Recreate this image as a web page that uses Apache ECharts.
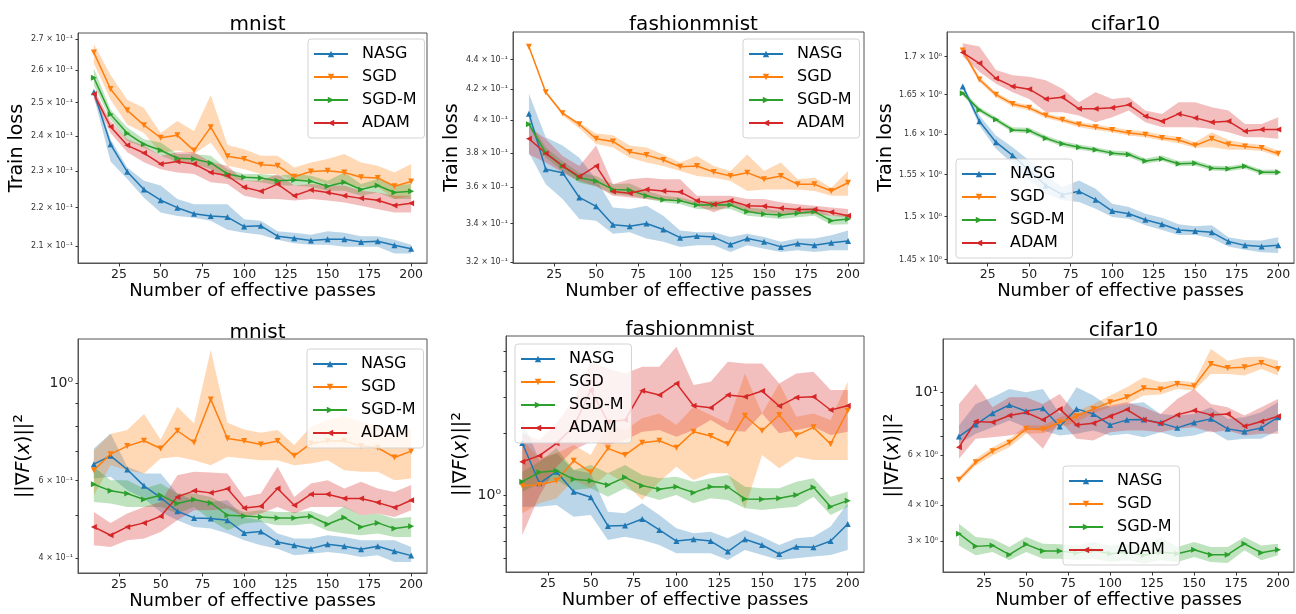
<!DOCTYPE html>
<html>
<head>
<meta charset="utf-8">
<script src="https://cdn.jsdelivr.net/npm/echarts@6.0.0/dist/echarts.min.js"></script>
<style>
  html, body { margin: 0; padding: 0; background: #fff; }
  #chart { width: 1296px; height: 614px; }
</style>
</head>
<body>
<div id="chart"></div>
<script>
var passes = [10, 20, 30, 40, 50, 60, 70, 80, 90, 100, 110, 120, 130, 140, 150, 160, 170, 180, 190, 200];
var passTicks = [25, 50, 75, 100, 125, 150, 175, 200];
var algos = ['NASG', 'SGD', 'SGD-M', 'ADAM'];

// mnist - train loss
var mnistLossNasg = [0.2531, 0.2376, 0.2298, 0.2249, 0.2220, 0.2200, 0.2184, 0.2178, 0.2175, 0.2150, 0.2152, 0.2125, 0.2120, 0.2114, 0.2117, 0.2117, 0.2110, 0.2112, 0.2102, 0.2093];
var mnistLossNasgLo = [0.2518, 0.2327, 0.2278, 0.2227, 0.2187, 0.2178, 0.2173, 0.2165, 0.2142, 0.2134, 0.2129, 0.2116, 0.2107, 0.2103, 0.2103, 0.2098, 0.2098, 0.2098, 0.2081, 0.2081];
var mnistLossNasgHi = [0.2545, 0.2391, 0.2310, 0.2273, 0.2260, 0.2223, 0.2209, 0.2209, 0.2209, 0.2169, 0.2165, 0.2138, 0.2134, 0.2129, 0.2138, 0.2134, 0.2125, 0.2125, 0.2116, 0.2103];
var mnistLossSgd = [0.2656, 0.2541, 0.2476, 0.2432, 0.2395, 0.2402, 0.2358, 0.2426, 0.2342, 0.2334, 0.2318, 0.2315, 0.2284, 0.2299, 0.2301, 0.2296, 0.2283, 0.2281, 0.2258, 0.2271];
var mnistLossSgdLo = [0.2621, 0.2508, 0.2434, 0.2409, 0.2351, 0.2358, 0.2348, 0.2381, 0.2315, 0.2305, 0.2292, 0.2292, 0.2273, 0.2278, 0.2264, 0.2264, 0.2256, 0.2256, 0.2223, 0.2232];
var mnistLossSgdHi = [0.2684, 0.2585, 0.2508, 0.2483, 0.2409, 0.2444, 0.2414, 0.2523, 0.2374, 0.2362, 0.2343, 0.2343, 0.2310, 0.2324, 0.2334, 0.2348, 0.2324, 0.2315, 0.2296, 0.2320];
var mnistLossSgdm = [0.2576, 0.2464, 0.2408, 0.2376, 0.2359, 0.2336, 0.2334, 0.2323, 0.2292, 0.2283, 0.2281, 0.2273, 0.2275, 0.2272, 0.2258, 0.2269, 0.2249, 0.2260, 0.2241, 0.2244];
var mnistLossSgdmLo = [0.2553, 0.2449, 0.2386, 0.2367, 0.2344, 0.2325, 0.2320, 0.2305, 0.2278, 0.2273, 0.2269, 0.2260, 0.2260, 0.2256, 0.2246, 0.2246, 0.2232, 0.2241, 0.2223, 0.2223];
var mnistLossSgdmHi = [0.2606, 0.2479, 0.2425, 0.2391, 0.2381, 0.2348, 0.2348, 0.2343, 0.2305, 0.2292, 0.2292, 0.2287, 0.2292, 0.2287, 0.2273, 0.2296, 0.2264, 0.2278, 0.2260, 0.2264];
var mnistLossAdam = [0.2526, 0.2427, 0.2373, 0.2351, 0.2320, 0.2327, 0.2320, 0.2296, 0.2287, 0.2255, 0.2244, 0.2264, 0.2232, 0.2248, 0.2241, 0.2232, 0.2225, 0.2220, 0.2206, 0.2212];
var mnistLossAdamLo = [0.2510, 0.2409, 0.2353, 0.2325, 0.2305, 0.2296, 0.2292, 0.2269, 0.2264, 0.2232, 0.2223, 0.2223, 0.2219, 0.2223, 0.2219, 0.2214, 0.2205, 0.2196, 0.2187, 0.2187];
var mnistLossAdamHi = [0.2541, 0.2444, 0.2391, 0.2372, 0.2343, 0.2353, 0.2353, 0.2325, 0.2315, 0.2273, 0.2273, 0.2292, 0.2260, 0.2264, 0.2260, 0.2260, 0.2246, 0.2241, 0.2232, 0.2232];

// fashionmnist - train loss
var fashionLossNasg = [0.4040, 0.3703, 0.3683, 0.3542, 0.3493, 0.3393, 0.3385, 0.3400, 0.3368, 0.3325, 0.3333, 0.3328, 0.3289, 0.3320, 0.3303, 0.3277, 0.3294, 0.3286, 0.3299, 0.3308];
var fashionLossNasgLo = [0.3800, 0.3616, 0.3533, 0.3424, 0.3415, 0.3345, 0.3354, 0.3320, 0.3303, 0.3277, 0.3286, 0.3286, 0.3251, 0.3286, 0.3268, 0.3251, 0.3260, 0.3251, 0.3260, 0.3260];
var fashionLossNasgHi = [0.4169, 0.3894, 0.3843, 0.3771, 0.3645, 0.3487, 0.3478, 0.3496, 0.3442, 0.3362, 0.3354, 0.3354, 0.3328, 0.3345, 0.3328, 0.3303, 0.3320, 0.3320, 0.3337, 0.3362];
var fashionLossSgd = [0.4489, 0.4179, 0.4044, 0.3974, 0.3885, 0.3868, 0.3804, 0.3786, 0.3757, 0.3717, 0.3722, 0.3687, 0.3664, 0.3683, 0.3645, 0.3664, 0.3616, 0.3616, 0.3578, 0.3625];
var fashionLossSgdLo = [0.4478, 0.4169, 0.4029, 0.3949, 0.3853, 0.3832, 0.3771, 0.3742, 0.3722, 0.3693, 0.3664, 0.3654, 0.3635, 0.3578, 0.3587, 0.3587, 0.3587, 0.3578, 0.3551, 0.3551];
var fashionLossSgdHi = [0.4500, 0.4190, 0.4054, 0.3983, 0.3917, 0.3906, 0.3843, 0.3832, 0.3790, 0.3742, 0.3781, 0.3722, 0.3693, 0.3790, 0.3693, 0.3742, 0.3645, 0.3654, 0.3596, 0.3693];
var fashionLossSgdm = [0.3974, 0.3800, 0.3722, 0.3654, 0.3635, 0.3587, 0.3584, 0.3551, 0.3529, 0.3524, 0.3500, 0.3502, 0.3500, 0.3464, 0.3451, 0.3445, 0.3455, 0.3464, 0.3415, 0.3424];
var fashionLossSgdmLo = [0.3964, 0.3771, 0.3693, 0.3625, 0.3605, 0.3560, 0.3551, 0.3533, 0.3515, 0.3505, 0.3478, 0.3475, 0.3478, 0.3442, 0.3433, 0.3424, 0.3433, 0.3442, 0.3393, 0.3396];
var fashionLossSgdmHi = [0.4000, 0.3832, 0.3751, 0.3683, 0.3664, 0.3616, 0.3621, 0.3578, 0.3551, 0.3542, 0.3518, 0.3524, 0.3524, 0.3487, 0.3478, 0.3469, 0.3478, 0.3487, 0.3442, 0.3451];
var fashionLossAdam = [0.3885, 0.3796, 0.3722, 0.3660, 0.3722, 0.3575, 0.3565, 0.3587, 0.3578, 0.3573, 0.3524, 0.3505, 0.3524, 0.3496, 0.3493, 0.3482, 0.3475, 0.3475, 0.3460, 0.3442];
var fashionLossAdamLo = [0.3790, 0.3742, 0.3683, 0.3635, 0.3605, 0.3551, 0.3542, 0.3533, 0.3524, 0.3533, 0.3496, 0.3460, 0.3496, 0.3460, 0.3460, 0.3451, 0.3451, 0.3451, 0.3442, 0.3433];
var fashionLossAdamHi = [0.3955, 0.3885, 0.3781, 0.3722, 0.3843, 0.3616, 0.3645, 0.3654, 0.3645, 0.3645, 0.3551, 0.3551, 0.3551, 0.3533, 0.3533, 0.3515, 0.3505, 0.3496, 0.3487, 0.3478];

// cifar10 - train loss
var cifarLossNasg = [1.6607, 1.6161, 1.5898, 1.5734, 1.5549, 1.5369, 1.5258, 1.5298, 1.5198, 1.5063, 1.5032, 1.4962, 1.4909, 1.4841, 1.4830, 1.4815, 1.4709, 1.4664, 1.4652, 1.4664];
var cifarLossNasgLo = [1.6576, 1.6106, 1.5816, 1.5631, 1.5429, 1.5270, 1.5190, 1.5171, 1.5091, 1.4992, 1.4974, 1.4898, 1.4841, 1.4784, 1.4784, 1.4746, 1.4652, 1.4614, 1.4584, 1.4576];
var cifarLossNasgHi = [1.6639, 1.6233, 1.5980, 1.5836, 1.5672, 1.5488, 1.5349, 1.5429, 1.5329, 1.5151, 1.5111, 1.5032, 1.4985, 1.4909, 1.4886, 1.4898, 1.4757, 1.4727, 1.4720, 1.4757];
var cifarLossSgd = [1.7080, 1.6697, 1.6500, 1.6381, 1.6331, 1.6233, 1.6178, 1.6119, 1.6085, 1.6051, 1.6013, 1.5992, 1.5951, 1.5926, 1.5857, 1.5939, 1.5869, 1.5844, 1.5824, 1.5754];
var cifarLossSgdLo = [1.7045, 1.6666, 1.6466, 1.6348, 1.6297, 1.6203, 1.6148, 1.6085, 1.6051, 1.6022, 1.5980, 1.5959, 1.5918, 1.5885, 1.5828, 1.5836, 1.5803, 1.5803, 1.5787, 1.5721];
var cifarLossSgdHi = [1.7112, 1.6732, 1.6531, 1.6411, 1.6360, 1.6263, 1.6212, 1.6148, 1.6119, 1.6085, 1.6051, 1.6030, 1.5992, 1.5967, 1.5898, 1.6022, 1.5926, 1.5885, 1.5865, 1.5795];
var cifarLossSgdm = [1.6517, 1.6305, 1.6182, 1.6051, 1.6042, 1.5947, 1.5877, 1.5836, 1.5803, 1.5762, 1.5746, 1.5664, 1.5693, 1.5631, 1.5639, 1.5578, 1.5570, 1.5602, 1.5529, 1.5529];
var cifarLossSgdmLo = [1.6487, 1.6275, 1.6152, 1.6022, 1.6009, 1.5918, 1.5844, 1.5803, 1.5775, 1.5734, 1.5713, 1.5631, 1.5664, 1.5602, 1.5606, 1.5549, 1.5541, 1.5570, 1.5500, 1.5496];
var cifarLossSgdmHi = [1.6551, 1.6339, 1.6212, 1.6085, 1.6077, 1.5980, 1.5910, 1.5869, 1.5836, 1.5795, 1.5783, 1.5697, 1.5734, 1.5664, 1.5672, 1.5610, 1.5602, 1.5631, 1.5557, 1.5561];
var cifarLossAdam = [1.7054, 1.6911, 1.6710, 1.6607, 1.6571, 1.6445, 1.6466, 1.6318, 1.6318, 1.6331, 1.6369, 1.6225, 1.6161, 1.6254, 1.6203, 1.6148, 1.6161, 1.6034, 1.6055, 1.6055];
var cifarLossAdamLo = [1.7000, 1.6799, 1.6643, 1.6530, 1.6445, 1.6275, 1.6275, 1.6233, 1.6148, 1.6212, 1.6297, 1.6148, 1.6085, 1.6085, 1.6085, 1.6064, 1.6022, 1.5959, 1.5959, 1.5939];
var cifarLossAdamHi = [1.7179, 1.7134, 1.6821, 1.6754, 1.6732, 1.6688, 1.6576, 1.6403, 1.6530, 1.6445, 1.6466, 1.6297, 1.6254, 1.6403, 1.6403, 1.6339, 1.6297, 1.6127, 1.6127, 1.6212];

// mnist - gradient norm
var mnistGradNasg = [0.6545, 0.6837, 0.6364, 0.5840, 0.5493, 0.5112, 0.4936, 0.4919, 0.4876, 0.4562, 0.4594, 0.4351, 0.4275, 0.4201, 0.4298, 0.4253, 0.4186, 0.4253, 0.4143, 0.4050];
var mnistGradNasgLo = [0.6067, 0.6123, 0.5709, 0.5464, 0.5094, 0.4876, 0.4708, 0.4667, 0.4546, 0.4390, 0.4275, 0.4201, 0.4056, 0.4092, 0.4128, 0.4092, 0.4021, 0.4056, 0.3917, 0.3917];
var mnistGradNasgHi = [0.7106, 0.7689, 0.6453, 0.6231, 0.6231, 0.5609, 0.5416, 0.5369, 0.5416, 0.4962, 0.4876, 0.4546, 0.4429, 0.4429, 0.4506, 0.4467, 0.4390, 0.4390, 0.4390, 0.4238];
var mnistGradSgd = [0.6341, 0.6898, 0.7194, 0.7399, 0.7106, 0.7798, 0.7334, 0.9193, 0.7490, 0.7386, 0.7258, 0.7386, 0.6837, 0.7297, 0.7386, 0.7399, 0.7194, 0.7132, 0.6778, 0.7007];
var mnistGradSgdLo = [0.5561, 0.6510, 0.6341, 0.6231, 0.6742, 0.6802, 0.6684, 0.6510, 0.6802, 0.6742, 0.6684, 0.6684, 0.6510, 0.6567, 0.6684, 0.6341, 0.6287, 0.6287, 0.6017, 0.6067];
var mnistGradSgdHi = [0.7043, 0.7662, 0.7825, 0.8511, 0.7450, 0.8846, 0.8104, 1.1915, 0.8133, 0.7853, 0.7716, 0.7825, 0.7232, 0.7963, 0.8247, 0.8422, 0.8175, 0.8034, 0.7689, 0.7896];
var mnistGradSgdm = [0.5891, 0.5689, 0.5609, 0.5435, 0.5561, 0.5322, 0.5435, 0.5340, 0.5006, 0.4989, 0.4962, 0.4936, 0.4936, 0.4979, 0.4774, 0.4945, 0.4708, 0.4809, 0.4667, 0.4725];
var mnistGradSgdmLo = [0.5369, 0.5322, 0.5230, 0.5230, 0.5230, 0.5049, 0.5230, 0.4876, 0.4627, 0.4793, 0.4834, 0.4751, 0.4751, 0.4793, 0.4612, 0.4546, 0.4506, 0.4546, 0.4467, 0.4467];
var mnistGradSgdmHi = [0.6453, 0.6017, 0.6017, 0.5758, 0.5914, 0.5609, 0.5609, 0.5512, 0.5274, 0.5094, 0.5138, 0.5094, 0.5094, 0.5120, 0.4962, 0.5248, 0.5006, 0.5049, 0.4919, 0.4962];
var mnistGradAdam = [0.4708, 0.4506, 0.4708, 0.4809, 0.4979, 0.5512, 0.5689, 0.5629, 0.5750, 0.5202, 0.5248, 0.5758, 0.5274, 0.5590, 0.5590, 0.5464, 0.5464, 0.5349, 0.5211, 0.5416];
var mnistGradAdamLo = [0.4275, 0.4238, 0.4390, 0.4429, 0.4586, 0.4876, 0.5138, 0.5138, 0.5184, 0.4962, 0.5049, 0.5230, 0.5049, 0.5230, 0.5230, 0.5230, 0.5006, 0.5049, 0.4962, 0.5138];
var mnistGradAdamHi = [0.5094, 0.4809, 0.5049, 0.5230, 0.5369, 0.6174, 0.6287, 0.6265, 0.6231, 0.5512, 0.5609, 0.6453, 0.5512, 0.5914, 0.6017, 0.5758, 0.5966, 0.5758, 0.5656, 0.5863];

// fashionmnist - gradient norm
var fashionGradNasg = [1.795, 1.147, 1.306, 1.045, 0.982, 0.714, 0.717, 0.772, 0.683, 0.604, 0.616, 0.604, 0.537, 0.616, 0.578, 0.523, 0.567, 0.563, 0.604, 0.730];
var fashionGradNasgLo = [0.885, 0.885, 0.901, 0.792, 0.807, 0.611, 0.634, 0.611, 0.578, 0.527, 0.527, 0.527, 0.489, 0.547, 0.517, 0.489, 0.498, 0.508, 0.517, 0.547];
var fashionGradNasgHi = [2.318, 1.486, 1.601, 1.330, 1.282, 0.837, 0.822, 0.918, 0.807, 0.696, 0.658, 0.670, 0.622, 0.683, 0.634, 0.578, 0.622, 0.634, 0.709, 0.918];
var fashionGradSgd = [1.118, 1.126, 1.181, 1.475, 1.296, 1.692, 1.571, 1.802, 1.842, 1.705, 2.036, 1.940, 1.776, 2.432, 2.059, 2.451, 1.955, 2.137, 1.776, 2.571];
var fashionGradSgdLo = [0.822, 0.918, 0.971, 1.190, 1.085, 1.282, 1.147, 0.953, 1.168, 1.380, 1.190, 1.282, 1.282, 0.869, 1.571, 1.355, 1.542, 1.486, 1.486, 1.486];
var fashionGradSgdHi = [1.856, 1.514, 1.601, 1.756, 1.571, 2.234, 2.074, 2.362, 2.496, 2.193, 2.688, 2.451, 2.234, 3.894, 2.496, 3.484, 2.405, 2.496, 2.318, 3.549];
var fashionGradSgdm = [1.168, 1.296, 1.320, 1.199, 1.181, 1.126, 1.226, 1.118, 1.073, 1.105, 1.034, 1.105, 1.101, 0.964, 0.960, 0.971, 1.007, 1.097, 0.885, 0.946];
var fashionGradSgdmLo = [1.045, 1.147, 1.190, 1.065, 1.085, 0.989, 1.085, 1.007, 0.953, 1.007, 0.918, 0.971, 0.953, 0.869, 0.853, 0.869, 0.885, 0.989, 0.807, 0.885];
var fashionGradSgdmHi = [1.306, 1.459, 1.692, 1.330, 1.406, 1.282, 1.406, 1.258, 1.212, 1.235, 1.168, 1.212, 1.258, 1.105, 1.085, 1.085, 1.168, 1.212, 0.989, 1.045];
var fashionGradAdam = [1.459, 1.560, 1.789, 2.153, 3.235, 2.276, 2.318, 3.211, 3.060, 3.484, 2.718, 2.659, 3.060, 3.004, 3.199, 2.708, 2.982, 3.004, 2.591, 2.718];
var fashionGradAdamLo = [0.646, 1.000, 1.380, 1.661, 1.822, 1.756, 1.856, 2.036, 2.074, 1.926, 2.074, 2.318, 2.074, 2.036, 2.496, 1.999, 2.074, 2.153, 1.962, 2.036];
var fashionGradAdamHi = [2.000, 1.856, 2.235, 2.895, 4.432, 4.116, 3.894, 4.193, 4.193, 5.236, 3.420, 3.549, 4.432, 4.351, 4.351, 3.484, 3.894, 3.966, 3.235, 3.235];

// cifar10 - gradient norm
var cifarGradNasg = [6.975, 7.684, 8.420, 9.005, 8.556, 8.766, 7.561, 8.719, 8.374, 7.662, 7.979, 8.000, 7.788, 7.480, 7.808, 8.044, 7.420, 7.262, 7.480, 8.152];
var cifarGradNasgLo = [6.575, 7.127, 7.521, 7.936, 7.521, 7.321, 7.032, 7.127, 7.321, 7.032, 7.127, 6.938, 7.223, 6.938, 7.032, 7.321, 6.754, 6.846, 6.846, 7.321];
var cifarGradNasgHi = [7.622, 9.078, 9.579, 10.24, 9.973, 10.24, 8.374, 10.38, 9.709, 8.837, 9.078, 9.200, 8.374, 8.262, 8.374, 8.837, 8.044, 8.152, 8.488, 9.200];
var cifarGradSgd = [4.918, 5.671, 6.197, 6.628, 7.420, 7.380, 7.830, 8.218, 8.719, 9.200, 9.579, 10.30, 10.19, 10.67, 10.47, 12.53, 12.13, 12.20, 12.64, 12.04];
var cifarGradSgdLo = [4.826, 5.521, 5.985, 6.400, 7.127, 7.165, 7.521, 7.830, 8.420, 8.837, 9.078, 9.709, 9.787, 10.24, 10.11, 11.56, 11.56, 11.41, 12.04, 11.41];
var cifarGradSgdHi = [5.025, 5.826, 6.400, 6.846, 7.622, 7.622, 8.152, 8.556, 9.078, 9.709, 10.38, 11.26, 10.81, 10.96, 10.81, 14.15, 12.87, 13.23, 13.30, 12.87];
var cifarGradSgdm = [3.182, 2.873, 2.896, 2.686, 2.920, 2.767, 2.767, 2.722, 2.782, 2.708, 2.745, 2.672, 2.745, 2.708, 2.797, 2.686, 2.686, 2.935, 2.730, 2.797];
var cifarGradSgdmLo = [2.896, 2.672, 2.745, 2.566, 2.745, 2.601, 2.601, 2.566, 2.601, 2.532, 2.566, 2.498, 2.566, 2.532, 2.636, 2.532, 2.512, 2.782, 2.566, 2.672];
var cifarGradSgdmHi = [3.449, 3.097, 3.056, 2.857, 3.097, 2.935, 2.920, 2.896, 2.975, 2.896, 2.935, 2.857, 3.097, 2.857, 2.975, 2.857, 2.857, 3.097, 2.896, 2.935];
var cifarGradAdam = [6.400, 7.873, 7.830, 8.262, 8.465, 7.979, 8.719, 7.662, 7.767, 8.218, 8.672, 7.979, 7.767, 8.307, 8.603, 8.307, 8.374, 7.582, 7.873, 8.218];
var cifarGradAdamLo = [5.826, 6.846, 6.938, 7.032, 7.223, 6.315, 7.936, 6.846, 6.754, 7.223, 7.321, 7.321, 7.223, 7.420, 7.521, 7.223, 7.321, 7.032, 7.127, 7.127];
var cifarGradAdamHi = [9.078, 10.67, 8.837, 9.579, 9.579, 9.078, 9.840, 8.374, 8.719, 8.956, 9.200, 8.837, 8.374, 9.451, 10.24, 9.078, 8.837, 8.262, 8.837, 9.451];

// y tick values and their labels ('' = unlabelled minor tick)
var mnistLossTicks = [0.21, 0.22, 0.23, 0.24, 0.25, 0.26, 0.27];
var mnistLossLabels = ['2.1 × 10⁻¹', '2.2 × 10⁻¹', '2.3 × 10⁻¹', '2.4 × 10⁻¹', '2.5 × 10⁻¹', '2.6 × 10⁻¹', '2.7 × 10⁻¹'];
var fashionLossTicks = [0.32, 0.34, 0.36, 0.38, 0.40, 0.42, 0.44];
var fashionLossLabels = ['3.2 × 10⁻¹', '3.4 × 10⁻¹', '3.6 × 10⁻¹', '3.8 × 10⁻¹', '4 × 10⁻¹', '4.2 × 10⁻¹', '4.4 × 10⁻¹'];
var cifarLossTicks = [1.45, 1.5, 1.55, 1.6, 1.65, 1.7];
var cifarLossLabels = ['1.45 × 10⁰', '1.5 × 10⁰', '1.55 × 10⁰', '1.6 × 10⁰', '1.65 × 10⁰', '1.7 × 10⁰'];
var mnistGradTicks = [0.4, 0.5, 0.6, 0.7, 0.8, 0.9, 1];
var mnistGradLabels = ['4 × 10⁻¹', '', '6 × 10⁻¹', '', '', '', '10⁰'];
var fashionGradTicks = [0.5, 0.6, 0.7, 0.8, 0.9, 1, 2, 3, 4, 5];
var fashionGradLabels = ['', '', '', '', '', '10⁰', '', '', '', ''];
var cifarGradTicks = [3, 4, 5, 6, 7, 8, 9, 10];
var cifarGradLabels = ['3 × 10⁰', '4 × 10⁰', '', '6 × 10⁰', '', '', '', '10¹'];

var FONT = 'DejaVu Sans';
var colors = ['#1f77b4', '#ff7f0e', '#2ca02c', '#d62728'];
var bandColors = ['rgba(31,119,180,0.3)', 'rgba(255,127,14,0.3)', 'rgba(44,160,44,0.3)', 'rgba(214,39,40,0.3)'];
var markRotate = [0, 180, -90, 90]; // up, down, right, left triangles
var gradName = '||∇{i|F}({i|x})||{sq|²}';

var panels = [
  { title: 'mnist', yName: 'Train loss', yMin: 0.2057, yMax: 0.272, ticks: mnistLossTicks, labels: mnistLossLabels,
    lines: [[mnistLossNasg, mnistLossNasgLo, mnistLossNasgHi], [mnistLossSgd, mnistLossSgdLo, mnistLossSgdHi], [mnistLossSgdm, mnistLossSgdmLo, mnistLossSgdmHi], [mnistLossAdam, mnistLossAdamLo, mnistLossAdamHi]],
    grid: { left: 78, top: 33, width: 349, height: 230 }, titleTop: 10, yGap: 50, legend: { left: 308, top: 39 } },
  { title: 'fashionmnist', yName: 'Train loss', yMin: 0.3195, yMax: 0.4595, ticks: fashionLossTicks, labels: fashionLossLabels,
    lines: [[fashionLossNasg, fashionLossNasgLo, fashionLossNasgHi], [fashionLossSgd, fashionLossSgdLo, fashionLossSgdHi], [fashionLossSgdm, fashionLossSgdmLo, fashionLossSgdmHi], [fashionLossAdam, fashionLossAdamLo, fashionLossAdamHi]],
    grid: { left: 513, top: 32, width: 351, height: 231 }, titleTop: 10, yGap: 49, legend: { left: 743, top: 39 } },
  { title: 'cifar10', yName: 'Train loss', yMin: 1.4463, yMax: 1.733, ticks: cifarLossTicks, labels: cifarLossLabels,
    lines: [[cifarLossNasg, cifarLossNasgLo, cifarLossNasgHi], [cifarLossSgd, cifarLossSgdLo, cifarLossSgdHi], [cifarLossSgdm, cifarLossSgdmLo, cifarLossSgdmHi], [cifarLossAdam, cifarLossAdamLo, cifarLossAdamHi]],
    grid: { left: 947, top: 32, width: 347, height: 231 }, titleTop: 10, yGap: 49, legend: { left: 956, top: 159 } },
  { title: 'mnist', yName: gradName, yMin: 0.3697, yMax: 1.262, ticks: mnistGradTicks, labels: mnistGradLabels,
    lines: [[mnistGradNasg, mnistGradNasgLo, mnistGradNasgHi], [mnistGradSgd, mnistGradSgdLo, mnistGradSgdHi], [mnistGradSgdm, mnistGradSgdmLo, mnistGradSgdmHi], [mnistGradAdam, mnistGradAdamLo, mnistGradAdamHi]],
    grid: { left: 78, top: 339, width: 349, height: 234 }, titleTop: 318, yGap: 37, legend: { left: 307, top: 349 } },
  { title: 'fashionmnist', yName: gradName, yMin: 0.428, yMax: 5.9, ticks: fashionGradTicks, labels: fashionGradLabels,
    lines: [[fashionGradNasg, fashionGradNasgLo, fashionGradNasgHi], [fashionGradSgd, fashionGradSgdLo, fashionGradSgdHi], [fashionGradSgdm, fashionGradSgdmLo, fashionGradSgdmHi], [fashionGradAdam, fashionGradAdamLo, fashionGradAdamHi]],
    grid: { left: 506, top: 336, width: 358, height: 236 }, titleTop: 315, yGap: 34, legend: { left: 515, top: 344 } },
  { title: 'cifar10', yName: gradName, yMin: 2.336, yMax: 15.33, ticks: cifarGradTicks, labels: cifarGradLabels,
    lines: [[cifarGradNasg, cifarGradNasgLo, cifarGradNasgHi], [cifarGradSgd, cifarGradSgdLo, cifarGradSgdHi], [cifarGradSgdm, cifarGradSgdmLo, cifarGradSgdmHi], [cifarGradAdam, cifarGradAdamLo, cifarGradAdamHi]],
    grid: { left: 943, top: 339, width: 351, height: 233 }, titleTop: 316, yGap: 37, legend: { left: 1063, top: 466 } }
];

// log axes are drawn as value axes over log10 of the data
function logPairs(vals) {
  return passes.map(function (x, k) { return [x, Math.log10(vals[k])]; });
}
function logBand(lo, hi) {
  return passes.map(function (x, k) { return [x, Math.log10(lo[k]), Math.log10(hi[k])]; });
}
// one filled polygon per band, built from all its points through the axis scales
function bandRenderer(fill) {
  return function (params, api) {
    if (params.dataIndexInside !== 0) return null;
    var upper = [], lower = [];
    for (var k = 0; k < params.dataInsideLength; k++) {
      upper.push(api.coord([api.value(0, k), api.value(2, k)]));
      lower.unshift(api.coord([api.value(0, k), api.value(1, k)]));
    }
    return { type: 'polygon', shape: { points: upper.concat(lower) }, style: { fill: fill, stroke: null } };
  };
}

var grids = [], xAxes = [], yAxes = [], titles = [], legends = [], series = [];

panels.forEach(function (p, i) {
  grids.push({
    left: p.grid.left, top: p.grid.top, width: p.grid.width, height: p.grid.height,
    show: true, borderColor: '#555', borderWidth: 1, backgroundColor: 'transparent'
  });
  titles.push({
    text: p.title, left: p.grid.left + p.grid.width / 2, top: p.titleTop, textAlign: 'center',
    textStyle: { fontFamily: FONT, fontSize: 20, fontWeight: 'normal', color: '#000' }
  });
  xAxes.push({
    type: 'value', gridIndex: i, min: 0.5, max: 209.5,
    splitLine: { show: false },
    axisLine: { show: true, onZero: false, lineStyle: { color: '#555' } },
    axisTick: { show: true, length: 3.5, customValues: passTicks, lineStyle: { color: '#333' } },
    axisLabel: { customValues: passTicks, fontFamily: FONT, fontSize: 12.5, color: '#222', margin: 5 },
    name: 'Number of effective passes', nameLocation: 'middle', nameGap: 19,
    nameTextStyle: { fontFamily: FONT, fontSize: 18, color: '#000' }
  });
  var logTicks = p.ticks.map(function (v) { return Math.log10(v); });
  var labelled = logTicks.filter(function (v, k) { return p.labels[k] !== ''; });
  yAxes.push({
    type: 'value', gridIndex: i, min: Math.log10(p.yMin), max: Math.log10(p.yMax),
    splitLine: { show: false },
    axisLine: { show: true, onZero: false, lineStyle: { color: '#555' } },
    axisTick: { show: true, length: 2.5, customValues: logTicks, lineStyle: { color: '#333' } },
    axisLabel: {
      customValues: labelled, margin: 5,
      formatter: function (val) {
        for (var k = 0; k < logTicks.length; k++) {
          if (Math.abs(logTicks[k] - val) < 1e-7) {
            var t = p.labels[k];
            return t.indexOf('×') < 0 ? '{b|' + t + '}' : '{s|' + t + '}';
          }
        }
        return '';
      },
      rich: {
        s: { fontFamily: FONT, fontSize: 8, color: '#333' },
        b: { fontFamily: FONT, fontSize: 14, color: '#222' }
      }
    },
    name: p.yName, nameLocation: 'middle', nameGap: p.yGap,
    nameTextStyle: {
      fontFamily: FONT, fontSize: 19, color: '#000',
      rich: {
        i: { fontFamily: FONT, fontSize: 19, fontStyle: 'italic', color: '#000' },
        sq: { fontFamily: FONT, fontSize: 22, color: '#000' }
      }
    }
  });
  legends.push({
    data: algos, left: p.legend.left, top: p.legend.top, orient: 'vertical', selectedMode: false,
    itemWidth: 34, itemHeight: 8, itemGap: 5, padding: [6, 8, 6, 5],
    backgroundColor: 'rgba(255,255,255,0.8)', borderColor: '#d3d3d3', borderWidth: 1, borderRadius: 3,
    textStyle: { fontFamily: FONT, fontSize: 16, lineHeight: 18, color: '#000', padding: [0, 0, 0, 9] }
  });

  p.lines.forEach(function (set, a) {
    var mean = set[0], lo = set[1], hi = set[2];
    series.push({
      name: algos[a] + ' band', type: 'custom', xAxisIndex: i, yAxisIndex: i,
      data: logBand(lo, hi), encode: { x: 0, y: [1, 2] },
      renderItem: bandRenderer(bandColors[a]), clip: true, silent: true, z: 1
    });
    series.push({
      name: algos[a], type: 'line', xAxisIndex: i, yAxisIndex: i, data: logPairs(mean),
      symbol: 'triangle', symbolSize: 6, symbolRotate: markRotate[a],
      lineStyle: { width: 1.5, color: colors[a] }, itemStyle: { color: colors[a] },
      silent: true, z: 3
    });
  });
});

var option = {
  animation: false,
  backgroundColor: '#fff',
  title: titles,
  legend: legends,
  grid: grids,
  xAxis: xAxes,
  yAxis: yAxes,
  series: series
};

var myChart = echarts.init(document.getElementById('chart'), null, { renderer: 'canvas' });
myChart.setOption(option);
</script>
</body>
</html>
